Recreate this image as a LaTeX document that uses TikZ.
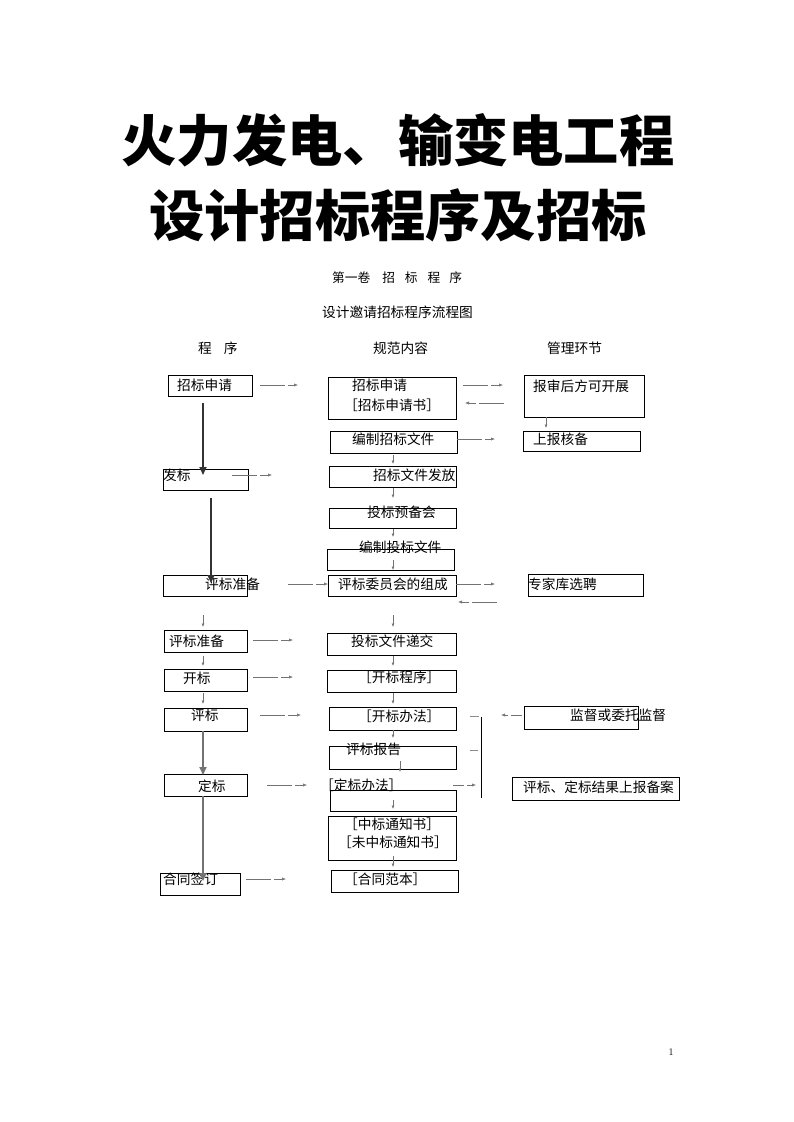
\documentclass[tikz,border=0pt]{standalone}
\usepackage{fontspec}
\newfontfamily\cjk{Noto Sans CJK SC}
\usetikzlibrary{arrows.meta}
\begin{document}
\begin{tikzpicture}[x=1pt,y=-1pt,
 box/.style={draw=black, line width=0.8pt, rectangle, inner sep=0pt, anchor=north west},
 txt/.style={anchor=west, inner sep=0pt, font=\cjk\fontsize{13.7}{16}\selectfont},
 ttl/.style={anchor=base, inner sep=0pt, font=\cjk\bfseries\fontsize{55.3}{60}\selectfont},
 dar/.style={draw=black!55, line width=0.6pt, dash pattern=on 25pt off 3pt on 40pt, -{Latex[length=4pt,width=3.2pt]}},
 dars/.style={draw=black!55, line width=0.6pt, dash pattern=on 11pt off 3pt on 40pt, -{Latex[length=4pt,width=3.2pt]}},
 sar/.style={draw=black!55, line width=0.6pt, -{Latex[length=3.5pt,width=3pt]}},
 tar/.style={line width=1.8pt, -{Triangle[length=8pt,width=7pt]}},
 tick/.style={draw=black!45, line width=0.8pt},
]
\useasboundingbox (0,0) rectangle (793,1122);

% ---------- titles ----------
\node[ttl] (t1) at (398,161) {火力发电、输变电工程};
\node[ttl] (t2) at (398,236) {设计招标程序及招标};
\node[anchor=west, inner sep=0pt, font=\cjk\fontsize{12.7}{15}\selectfont] (s1) at (332,278) {第一卷\hspace{12pt}招\hspace{10pt}标\hspace{10pt}程\hspace{9pt}序};
\node[txt] (s2) at (322,312) {设计邀请招标程序流程图};
\node[txt] (h1) at (198,348) {程\hspace{12pt}序};
\node[txt] (h2) at (373,348) {规范内容};
\node[txt] (h3) at (547,348) {管理环节};

% ---------- left column boxes ----------
\node[box, minimum width=84pt, minimum height=21pt] (L1) at (168,375) {};
\node[box, minimum width=85pt, minimum height=21pt] (L2) at (163,469) {};
\node[box, minimum width=84pt, minimum height=21pt] (L3) at (163,575) {};
\node[box, minimum width=83pt, minimum height=22pt] (L4) at (164,630) {};
\node[box, minimum width=83pt, minimum height=22pt] (L5) at (164,669) {};
\node[box, minimum width=83pt, minimum height=23pt] (L6) at (164,708) {};
\node[box, minimum width=83pt, minimum height=22pt] (L7) at (164,774) {};
\node[box, minimum width=80pt, minimum height=22pt] (L8) at (160,873) {};

% ---------- centre column boxes ----------
\node[box, minimum width=128pt, minimum height=42pt] (C1) at (328,377) {};
\node[box, minimum width=127pt, minimum height=22pt] (C2) at (330,431) {};
\node[box, minimum width=127pt, minimum height=21pt] (C3) at (329,466) {};
\node[box, minimum width=127pt, minimum height=20pt] (C4) at (329,508) {};
\node[box, minimum width=127pt, minimum height=21pt] (C5) at (327,549) {};
\node[box, minimum width=128pt, minimum height=21pt] (C6) at (328,575) {};
\node[box, minimum width=129pt, minimum height=22pt] (C7) at (327,633) {};
\node[box, minimum width=129pt, minimum height=22pt] (C8) at (327,670) {};
\node[box, minimum width=127pt, minimum height=23pt] (C9) at (329,707) {};
\node[box, minimum width=127pt, minimum height=23pt] (C10) at (329,746) {};
\node[box, minimum width=126pt, minimum height=21pt] (C11) at (330,790) {};
\node[box, minimum width=128pt, minimum height=44pt] (C12) at (328,816) {};
\node[box, minimum width=127pt, minimum height=22pt] (C13) at (331,870) {};

% ---------- right column boxes ----------
\node[box, minimum width=120pt, minimum height=42pt] (R1) at (524,375) {};
\node[box, minimum width=117pt, minimum height=20pt] (R2) at (523,431) {};
\node[box, minimum width=115pt, minimum height=22pt] (R3) at (528,574) {};
\node[box, minimum width=114pt, minimum height=23pt] (R4) at (524,706) {};
\node[box, minimum width=167pt, minimum height=23pt] (R5) at (512,777) {};

% ---------- texts ----------
\node[txt] (xL1) at (177,385) {招标申请};
\node[txt] (xL2) at (163,475) {发标};
\node[txt] (xL3) at (205,584) {评标准备};
\node[txt] (xL4) at (169,641) {评标准备};
\node[txt] (xL5) at (183,678) {开标};
\node[txt] (xL6) at (191,715) {评标};
\node[txt] (xL7) at (198,786) {定标};
\node[txt] (xL8) at (163,879) {合同签订};

\node[txt] (xC1a) at (352,385) {招标申请};
\node[txt] (xC1b) at (344,405) {［招标申请书］};
\node[txt] (xC2) at (352,439) {编制招标文件};
\node[txt] (xC3) at (373,475) {招标文件发放};
\node[txt] (xC4) at (367,512) {投标预备会};
\node[txt] (xC5) at (359,547) {编制投标文件};
\node[txt] (xC6) at (338,584) {评标委员会的组成};
\node[txt] (xC7) at (351,641) {投标文件递交};
\node[txt] (xC8) at (358,677) {［开标程序］};
\node[txt] (xC9) at (358,716) {［开标办法］};
\node[txt] (xC10) at (346,749) {评标报告};
\node[txt] (xC11) at (320,785) {［定标办法］};
\node[txt] (xC12a) at (344,824) {［中标通知书］};
\node[txt] (xC12b) at (338,842) {［未中标通知书］};
\node[txt] (xC13) at (344,879) {［合同范本］};

\node[txt] (xR1) at (533,386) {报审后方可开展};
\node[txt] (xR2) at (533,439) {上报核备};
\node[txt] (xR3) at (528,584) {专家库选聘};
\node[txt] (xR4) at (570,715) {监督或委托监督};
\node[txt] (xR5) at (523,787) {评标、定标结果上报备案};

\node[inner sep=0pt, font=\fontsize{10}{12}\selectfont] (pg) at (671,1052) {1};

% ---------- thick arrows (left column) ----------
\coordinate (k1s) at (203,403); \coordinate (k1e) at (203,475);
\coordinate (k2s) at (211,498); \coordinate (k2e) at (211,583);
\coordinate (k3s) at (203,731); \coordinate (k3e) at (203,775);
\coordinate (k4s) at (203,796); \coordinate (k4e) at (203,881);
\draw[tar, draw=black!80, fill=black!80] (k1s) -- (k1e);
\draw[tar, draw=black!80, line width=1.4pt, fill=black!80] (k2s) -- (k2e);
\draw[tar, draw=black!55, fill=black!55] (k3s) -- (k3e);
\draw[tar, draw=black!55, fill=black!55] (k4s) -- (k4e);

% ---------- dashed horizontal arrows ----------
\coordinate (a1s) at (260,385); \coordinate (a1e) at (298,385);
\coordinate (a2s) at (463,385); \coordinate (a2e) at (503,385);
\coordinate (a3s) at (504,403); \coordinate (a3e) at (465,403);
\coordinate (a4s) at (457,439); \coordinate (a4e) at (495,439);
\coordinate (a5s) at (232,475); \coordinate (a5e) at (272,475);
\coordinate (a6s) at (288,584); \coordinate (a6e) at (328,584);
\coordinate (a7s) at (456,584); \coordinate (a7e) at (495,584);
\coordinate (a8s) at (497,602); \coordinate (a8e) at (458,602);
\coordinate (a9s) at (253,640); \coordinate (a9e) at (293,640);
\coordinate (a10s) at (253,677); \coordinate (a10e) at (293,677);
\coordinate (a11s) at (260,715); \coordinate (a11e) at (301,715);
\coordinate (a12s) at (522,715); \coordinate (a12e) at (501,715);
\coordinate (a13s) at (267,785); \coordinate (a13e) at (307,785);
\coordinate (a14s) at (453,785); \coordinate (a14e) at (476,785);
\coordinate (a15s) at (246,879); \coordinate (a15e) at (286,879);
\foreach \i in {1,...,11,13,15} {\draw[dar] (a\i s) -- (a\i e);}
\draw[dars] (a12s) -- (a12e);
\draw[dars] (a14s) -- (a14e);

% ---------- small vertical arrows ----------
\coordinate (v1s) at (546,417); \coordinate (v1e) at (546,428);
\coordinate (v2s) at (393,455); \coordinate (v2e) at (393,464);
\coordinate (v3s) at (393,488); \coordinate (v3e) at (393,498);
\coordinate (v4s) at (393,529); \coordinate (v4e) at (393,537);
\coordinate (v5s) at (393,560); \coordinate (v5e) at (393,570);
\coordinate (v6s) at (203,615); \coordinate (v6e) at (203,627);
\coordinate (v7s) at (393,615); \coordinate (v7e) at (393,627);
\coordinate (v8s) at (203,656); \coordinate (v8e) at (203,666);
\coordinate (v9s) at (393,656); \coordinate (v9e) at (393,666);
\coordinate (v10s) at (203,693); \coordinate (v10e) at (203,704);
\coordinate (v11s) at (393,693); \coordinate (v11e) at (393,704);
\coordinate (v12s) at (393,730); \coordinate (v12e) at (393,738);
\coordinate (v13s) at (400,761); \coordinate (v13e) at (400,772);
\coordinate (v14s) at (393,800); \coordinate (v14e) at (393,809);
\coordinate (v15s) at (393,856); \coordinate (v15e) at (393,867);
\foreach \i in {1,...,15} {\draw[sar] (v\i s) -- (v\i e);}

% ---------- bracket line on the right ----------
\coordinate (b1) at (481,717); \coordinate (b2) at (481,798);
\draw[line width=0.9pt] (b1) -- (b2);
\coordinate (d1s) at (470,716); \coordinate (d1e) at (479,716);
\coordinate (d2s) at (470,750); \coordinate (d2e) at (478,750);
\draw[tick] (d1s) -- (d1e);
\draw[tick] (d2s) -- (d2e);
\end{tikzpicture}
\end{document}
